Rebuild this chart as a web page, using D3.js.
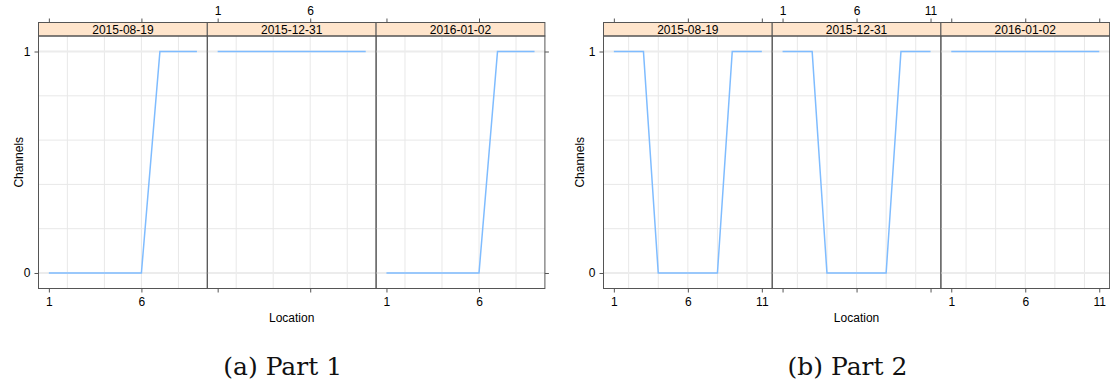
<!DOCTYPE html>
<html>
<head>
<meta charset="utf-8">
<script src="https://cdn.jsdelivr.net/npm/d3@7/dist/d3.min.js"></script>
<style>
  html, body { margin: 0; padding: 0; background: #fff; }
  svg { display: block; }
  .tick text { font-family: "Liberation Sans", Arial, sans-serif; font-size: 12px; fill: #000; }
</style>
</head>
<body>
<svg id="chart" width="1110" height="387"></svg>
<script>
// Dates shown as strip titles, one panel each
const dates = ["2015-08-19", "2015-12-31", "2016-01-02"];

// Part 1: locations and channel state per date
const part1Locations = [1, 2, 3, 4, 5, 6, 7, 8, 9];
const part1Aug19 = [0, 0, 0, 0, 0, 0, 1, 1, 1];
const part1Dec31 = [1, 1, 1, 1, 1, 1, 1, 1, 1];
const part1Jan02 = [0, 0, 0, 0, 0, 0, 1, 1, 1];

// Part 2: locations and channel state per date
const part2Locations = [1, 2, 3, 4, 5, 6, 7, 8, 9, 10, 11];
const part2Aug19 = [1, 1, 1, 0, 0, 0, 0, 0, 1, 1, 1];
const part2Dec31 = [1, 1, 1, 0, 0, 0, 0, 0, 1, 1, 1];
const part2Jan02 = [1, 1, 1, 1, 1, 1, 1, 1, 1, 1, 1];

// Axis ticks and reference grid
const xTickValues = [1, 6, 11];
const yTickValues = [0, 1];
const xGridValues = [2, 4, 6, 8, 10];
const yGridValues = [0, 0.2, 0.4, 0.6, 0.8, 1];

const captions = ["(a) Part 1", "(b) Part 2"];

const svg = d3.select("#chart");
svg.append("rect").attr("width", 1110).attr("height", 387).attr("fill", "#fff");

const FONT = '"Liberation Sans", Arial, sans-serif';
const stripTop = 22.5, plotTop = 36, plotBottom = 288.5;
const lineColor = "#7fbcff", borderColor = "#555", gridColor = "#e8e8e8";

function drawPart(cfg) {
  const { left, panelW, locations, series, caption, captionX, ylabelX } = cfg;
  const g = svg.append("g");
  const lo = d3.min(locations), hi = d3.max(locations), pad = 0.07 * (hi - lo);
  const x = d3.scaleLinear().domain([lo - pad, hi + pad]).range([0, panelW]);
  const y = d3.scaleLinear().domain([-0.07, 1.07]).range([plotBottom, plotTop]);
  const ticksIn = xTickValues.filter(v => v >= lo - pad && v <= hi + pad);
  const gridIn = xGridValues.filter(v => v > lo - pad && v < hi + pad);

  series.forEach((vals, i) => {
    const p = g.append("g").attr("transform", `translate(${left + i * panelW},0)`);

    // grid
    p.selectAll("line.vg").data(gridIn).join("line")
      .attr("x1", d => x(d)).attr("x2", d => x(d))
      .attr("y1", plotTop).attr("y2", plotBottom)
      .attr("stroke", gridColor).attr("stroke-width", 1);
    p.selectAll("line.hg").data(yGridValues).join("line")
      .attr("x1", 0).attr("x2", panelW)
      .attr("y1", d => y(d)).attr("y2", d => y(d))
      .attr("stroke", d => (d === 0 || d === 1) ? "#ececec" : gridColor)
      .attr("stroke-width", d => (d === 0 || d === 1) ? 2 : 1);

    // channel line
    const line = d3.line().x((d, k) => x(locations[k])).y(d => y(d));
    p.append("path").datum(vals).attr("d", line)
      .attr("fill", "none").attr("stroke", lineColor).attr("stroke-width", 1.5);

    // strip
    p.append("rect").attr("x", 0).attr("y", stripTop)
      .attr("width", panelW).attr("height", plotTop - stripTop)
      .attr("fill", "#ffe5cc").attr("stroke", borderColor).attr("stroke-width", 1);
    p.append("text").attr("x", panelW / 2).attr("y", 34.3)
      .attr("text-anchor", "middle").attr("font-family", FONT).attr("font-size", 12)
      .text(dates[i]);

    // panel border
    p.append("rect").attr("x", 0).attr("y", plotTop)
      .attr("width", panelW).attr("height", plotBottom - plotTop)
      .attr("fill", "none").attr("stroke", borderColor).attr("stroke-width", 1);

    // alternating x axes: labels below on odd panels, above on even ones
    const labelBelow = i % 2 === 0;
    const bottom = p.append("g").attr("transform", `translate(0,${plotBottom})`)
      .call(d3.axisBottom(x).tickValues(ticksIn).tickSize(4).tickPadding(4.5)
        .tickFormat(labelBelow ? d3.format("d") : () => ""));
    const top = p.append("g").attr("transform", `translate(0,${stripTop})`)
      .call(d3.axisTop(x).tickValues(ticksIn).tickSize(4).tickPadding(3.2)
        .tickFormat(labelBelow ? () => "" : d3.format("d")));
    [bottom, top].forEach(a => {
      a.select(".domain").remove();
      a.selectAll(".tick line").attr("stroke", borderColor);
    });

    if (i === 0) {
      const ya = p.append("g")
        .call(d3.axisLeft(y).tickValues(yTickValues).tickSize(4).tickPadding(4).tickFormat(d3.format("d")));
      ya.select(".domain").remove();
      ya.selectAll(".tick line").attr("stroke", borderColor);
    }
    if (i === series.length - 1) {
      const ya = p.append("g").attr("transform", `translate(${panelW},0)`)
        .call(d3.axisRight(y).tickValues(yTickValues).tickSize(4).tickFormat(() => ""));
      ya.select(".domain").remove();
      ya.selectAll(".tick line").attr("stroke", borderColor);
    }
  });

  const totalW = panelW * series.length;
  g.append("text").attr("x", left + totalW / 2).attr("y", 322)
    .attr("text-anchor", "middle").attr("font-family", FONT).attr("font-size", 12)
    .text("Location");
  g.append("text").attr("transform", `translate(${ylabelX},${(plotTop + plotBottom) / 2}) rotate(-90)`)
    .attr("text-anchor", "middle").attr("font-family", FONT).attr("font-size", 12)
    .text("Channels");
  g.append("text").attr("x", captionX).attr("y", 375)
    .attr("text-anchor", "middle").attr("font-family", '"DejaVu Serif", serif').attr("font-size", 25)
    .attr("fill", "#111")
    .text(caption);
}

drawPart({
  left: 38.5, panelW: 168.8, locations: part1Locations,
  series: [part1Aug19, part1Dec31, part1Jan02],
  caption: captions[0], captionX: 282.7, ylabelX: 23
});
drawPart({
  left: 603.5, panelW: 168.7, locations: part2Locations,
  series: [part2Aug19, part2Dec31, part2Jan02],
  caption: captions[1], captionX: 847.5, ylabelX: 583.5
});
</script>
</body>
</html>
